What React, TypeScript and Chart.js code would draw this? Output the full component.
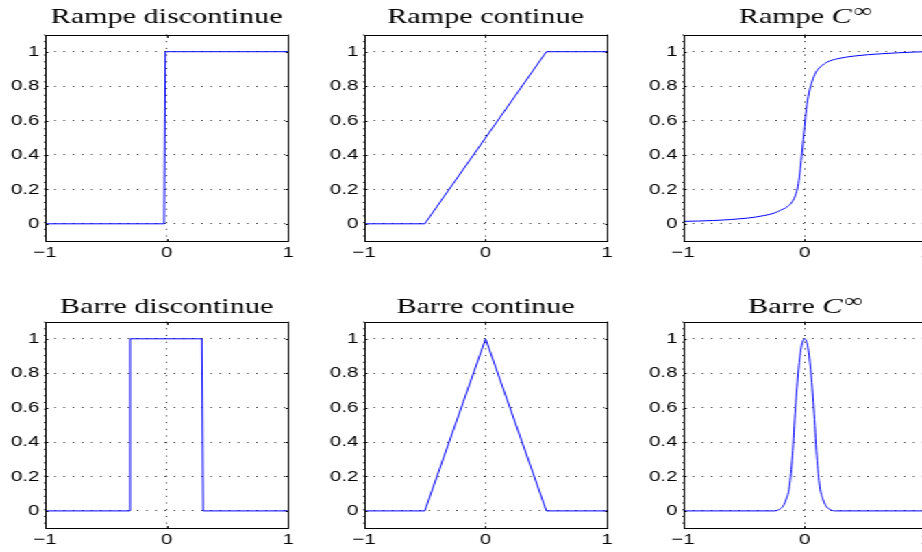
import React, { useEffect, useRef } from 'react';
import { Chart, registerables } from 'chart.js';

Chart.register(...registerables);

// ---- data ----
const X_TICKS = [-1, 0, 1];
const X_TICK_LABELS = ['\u22121', '0', '1'];
const Y_TICKS = [0, 0.2, 0.4, 0.6, 0.8, 1];
const Y_TICK_LABELS = ['0', '0.2', '0.4', '0.6', '0.8', '1'];

const RAMP_STEP_X = [-1, -0.02, -0.01, 1];
const RAMP_STEP_Y = [0, 0, 1, 1];

const RAMP_LIN_X = [-1, -0.5, 0.5, 1];
const RAMP_LIN_Y = [0, 0, 1, 1];

const RAMP_SMOOTH_X = [-1, -0.75, -0.47, -0.34, -0.25, -0.2, -0.14, -0.1, -0.074, -0.055, -0.039, -0.025, -0.011, 0, 0.014, 0.036, 0.063, 0.091, 0.132, 0.187, 0.27, 0.41, 0.63, 0.9, 1];
const RAMP_SMOOTH_Y = [0.014, 0.019, 0.033, 0.047, 0.062, 0.078, 0.1, 0.13, 0.169, 0.217, 0.295, 0.392, 0.489, 0.567, 0.664, 0.761, 0.829, 0.878, 0.913, 0.94, 0.959, 0.975, 0.988, 0.998, 1.0];

const BAR_STEP_X = [-1, -0.31, -0.3, 0.29, 0.3, 1];
const BAR_STEP_Y = [0, 0, 1, 1, 0, 0];

const BAR_LIN_X = [-1, -0.5, 0, 0.5, 1];
const BAR_LIN_Y = [0, 0, 1, 0, 0];

const BAR_SMOOTH_X = [-1, -0.25, -0.2, -0.175, -0.15, -0.125, -0.1, -0.075, -0.05, -0.025, 0, 0.025, 0.05, 0.075, 0.1, 0.125, 0.15, 0.175, 0.2, 0.25, 1];
const BAR_SMOOTH_Y = [0, 0, 0.012, 0.03, 0.07, 0.14, 0.32, 0.6, 0.82, 0.96, 1, 0.96, 0.82, 0.6, 0.32, 0.14, 0.07, 0.03, 0.012, 0, 0];

type Part = { text: string; italic?: boolean; sup?: boolean };

const PANELS: { row: number; col: number; title: Part[]; xs: number[]; ys: number[]; smooth: boolean }[] = [
  { row: 0, col: 0, title: [{ text: 'Rampe discontinue' }], xs: RAMP_STEP_X, ys: RAMP_STEP_Y, smooth: false },
  { row: 0, col: 1, title: [{ text: 'Rampe continue' }], xs: RAMP_LIN_X, ys: RAMP_LIN_Y, smooth: false },
  { row: 0, col: 2, title: [{ text: 'Rampe ' }, { text: 'C', italic: true }, { text: '\u221E', sup: true }], xs: RAMP_SMOOTH_X, ys: RAMP_SMOOTH_Y, smooth: true },
  { row: 1, col: 0, title: [{ text: 'Barre discontinue' }], xs: BAR_STEP_X, ys: BAR_STEP_Y, smooth: false },
  { row: 1, col: 1, title: [{ text: 'Barre continue' }], xs: BAR_LIN_X, ys: BAR_LIN_Y, smooth: false },
  { row: 1, col: 2, title: [{ text: 'Barre ' }, { text: 'C', italic: true }, { text: '\u221E', sup: true }], xs: BAR_SMOOTH_X, ys: BAR_SMOOTH_Y, smooth: true },
];

// ---- layout (unstretched coordinates) ----
const S = 1.37;
const PITCH = 232.85;
const PLOT_LEFT = 32.85;
const PLOT_W = 177.5;
const PLOT_H = 206.5;
const ROW_TOPS = [34.5, 321.6];
const ROW_CANVAS = [{ top: 0, height: 287 }, { top: 287, height: 265 }];
const TITLE_GAP = [12, 9];
const SERIF = '"Liberation Serif", "Times New Roman", serif';
const SANS = '"Liberation Sans", Arial, sans-serif';

function Panel({ p }: { p: typeof PANELS[number] }) {
  const ref = useRef<HTMLCanvasElement | null>(null);
  const canvasLeft = Math.floor(p.col * PITCH);
  const canvasW = Math.ceil(p.col * PITCH + PITCH) - canvasLeft;
  const { top: canvasTop, height: canvasH } = ROW_CANVAS[p.row];
  const yAxisW = p.col * PITCH + PLOT_LEFT - canvasLeft;
  const rightPad = canvasW - yAxisW - PLOT_W;
  const padTop = ROW_TOPS[p.row] - canvasTop;
  const xAxisH = canvasH - padTop - PLOT_H;

  useEffect(() => {
    if (!ref.current) return;
    const framePlugin = {
      id: 'frame',
      afterDraw(chart: any) {
        const { ctx, chartArea: a } = chart;
        ctx.save();
        const l = Math.round(a.left) + 0.5;
        const r = Math.round(a.right) + 0.5;
        const t = Math.round(a.top) + 0.5;
        const b = Math.round(a.bottom) + 0.5;
        ctx.strokeStyle = '#000';
        ctx.lineWidth = 1;
        ctx.setLineDash([]);
        ctx.strokeRect(l, t, r - l, b - t);
        // inward tick marks
        const xs = chart.scales.x;
        const ys = chart.scales.y;
        ctx.beginPath();
        X_TICKS.forEach((v) => {
          const px = Math.round(xs.getPixelForValue(v)) + 0.5;
          ctx.moveTo(px, b); ctx.lineTo(px, b - 2.4);
          ctx.moveTo(px, t); ctx.lineTo(px, t + 2.4);
        });
        Y_TICKS.forEach((v) => {
          const py = Math.round(ys.getPixelForValue(v)) + 0.5;
          ctx.moveTo(l, py); ctx.lineTo(l + 1.8, py);
          ctx.moveTo(r, py); ctx.lineTo(r - 1.8, py);
        });
        ctx.stroke();
        // title
        const fontFor = (part: Part) =>
          part.sup ? `19px ${SERIF}` : part.italic ? `italic 22px ${SERIF}` : `22px ${SERIF}`;
        let total = 0;
        const widths = p.title.map((part) => {
          ctx.font = fontFor(part);
          const w = ctx.measureText(part.text).width;
          total += w;
          return w;
        });
        let x = (a.left + a.right) / 2 - total / 2;
        const baseY = a.top - TITLE_GAP[p.row];
        ctx.fillStyle = '#000';
        ctx.textAlign = 'left';
        ctx.textBaseline = 'alphabetic';
        p.title.forEach((part, i) => {
          ctx.font = fontFor(part);
          ctx.fillText(part.text, x, part.sup ? baseY - 6 : baseY);
          x += widths[i] + (part.italic ? 1 : 0);
        });
        ctx.restore();
      },
    };

    const chart = new Chart(ref.current, {
      type: 'line',
      data: {
        datasets: [
          {
            data: p.xs.map((x, i) => ({ x, y: p.ys[i] })),
            borderColor: '#0000ff',
            borderWidth: 1,
            pointRadius: 0,
            fill: false,
            tension: 0,
            cubicInterpolationMode: p.smooth ? 'monotone' : 'default',
          } as any,
        ],
      },
      options: {
        responsive: false,
        animation: false,
        devicePixelRatio: 1,
        events: [],
        layout: { padding: { top: padTop, right: rightPad, left: 0, bottom: 0 } },
        plugins: { legend: { display: false }, tooltip: { enabled: false }, title: { display: false } },
        scales: {
          x: {
            type: 'linear',
            min: -1,
            max: 1,
            afterBuildTicks: (s: any) => { s.ticks = X_TICKS.map((v) => ({ value: v })); },
            afterFit: (s: any) => { s.height = xAxisH; },
            ticks: {
              callback: (v: any) => X_TICK_LABELS[X_TICKS.indexOf(Number(v))],
              font: { family: SANS, size: 15 },
              color: '#000',
              padding: 3,
              maxRotation: 0,
              autoSkip: false,
            },
            grid: { color: '#222', lineWidth: 1, drawTicks: false },
            border: { display: false, dash: [1, 5.7] },
          },
          y: {
            type: 'linear',
            min: -0.1,
            max: 1.1,
            afterBuildTicks: (s: any) => { s.ticks = Y_TICKS.map((v) => ({ value: v })); },
            afterFit: (s: any) => { s.width = yAxisW; },
            ticks: {
              callback: (v: any) => Y_TICK_LABELS[Y_TICKS.indexOf(Number(v))],
              font: { family: SANS, size: 15 },
              color: '#000',
              padding: 4,
              autoSkip: false,
            },
            grid: { color: '#222', lineWidth: 1, drawTicks: false },
            border: { display: false, dash: [1, 5.7] },
          },
        },
      } as any,
      plugins: [framePlugin],
    });
    return () => chart.destroy();
  }, []);

  return (
    <canvas
      ref={ref}
      width={canvasW}
      height={canvasH}
      style={{ position: 'absolute', left: canvasLeft, top: canvasTop, width: canvasW, height: canvasH }}
    />
  );
}

export default function App() {
  return (
    <div style={{ position: 'fixed', left: 0, top: 0, width: 922, height: 552, overflow: 'hidden', background: '#fff' }}>
      <div
        style={{
          position: 'absolute',
          left: 0,
          top: 0,
          width: 922 / S + 40,
          height: 552,
          transform: `scaleX(${S})`,
          transformOrigin: '0 0',
        }}
      >
        {PANELS.map((p, i) => (
          <Panel key={i} p={p} />
        ))}
      </div>
    </div>
  );
}
